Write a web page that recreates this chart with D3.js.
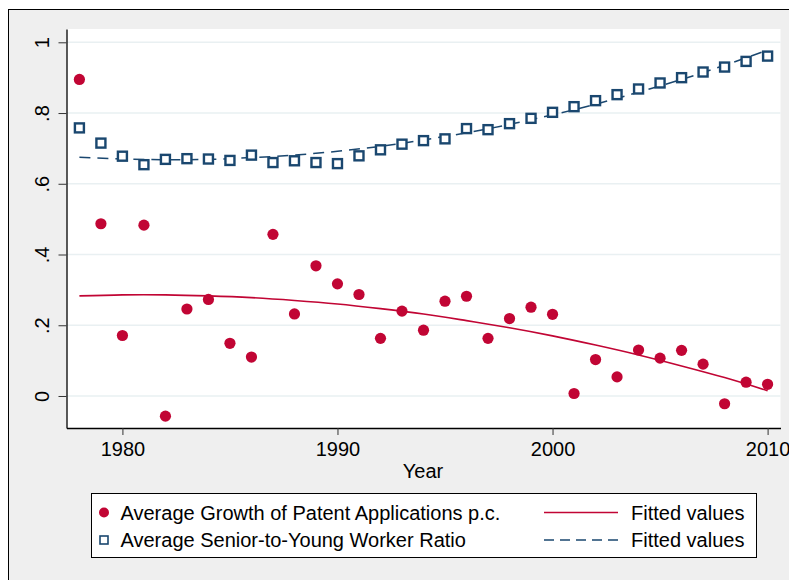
<!DOCTYPE html>
<head>
<meta charset="utf-8">
<style>
    body { margin: 0; background: #fff; }
    text { font-family: "Liberation Sans", Arial, sans-serif; fill: #000; }
</style>
<script src="https://d3js.org/d3.v7.min.js"></script>
</head>
<body>
<script>
// values
var years = d3.range(1978, 2011);
var patentGrowth = [0.895, 0.487, 0.171, 0.483, -0.057, 0.246, 0.273, 0.149, 0.110, 0.457,
    0.232, 0.368, 0.317, 0.287, 0.163, 0.240, 0.186, 0.268, 0.282, 0.163,
    0.219, 0.251, 0.231, 0.007, 0.103, 0.054, 0.130, 0.107, 0.129, 0.090,
    -0.022, 0.039, 0.033];
var seniorRatio = [0.758, 0.715, 0.678, 0.654, 0.669, 0.671, 0.670, 0.666, 0.681, 0.660,
    0.665, 0.660, 0.657, 0.679, 0.696, 0.712, 0.722, 0.727, 0.756, 0.753,
    0.770, 0.785, 0.802, 0.818, 0.835, 0.852, 0.868, 0.885, 0.900, 0.916,
    0.930, 0.946, 0.961];
var fitYears = [1978, 1980, 1982, 1984, 1986, 1988, 1990, 1992, 1994, 1996, 1998, 2000, 2002, 2004, 2006, 2008, 2010];
var patentFit = [0.283, 0.286, 0.286, 0.283, 0.278, 0.270, 0.260, 0.247, 0.232, 0.213, 0.193, 0.170, 0.144, 0.116, 0.085, 0.052, 0.015];
var ratioFit = [0.675, 0.670, 0.668, 0.669, 0.674, 0.681, 0.692, 0.706, 0.724, 0.744, 0.768, 0.795, 0.825, 0.859, 0.895, 0.935, 0.978];
var xTicks = [1980, 1990, 2000, 2010];
var yTicks = [0, 0.2, 0.4, 0.6, 0.8, 1];
var yTickLabels = ["0", ".2", ".4", ".6", ".8", "1"];
var legendLabels = ["Average Growth of Patent Applications p.c.", "Average Senior-to-Young Worker Ratio"];

var red = "#c10534", navy = "#1a476f";

var svg = d3.select("body").append("svg")
    .attr("width", 789)
    .attr("height", 580);

// graph region
svg.append("rect")
    .attr("x", 8.5).attr("y", 9.5)
    .attr("width", 800).attr("height", 600)
    .attr("fill", "#efefef")
    .attr("stroke", "#000");

var plot = {left: 66.5, right: 780.5, top: 29, bottom: 428};

svg.append("rect")
    .attr("x", plot.left).attr("y", plot.top)
    .attr("width", plot.right - plot.left).attr("height", plot.bottom - plot.top)
    .attr("fill", "#fff");

var x = d3.scaleLinear().domain([1977.4, 2010.6]).range([plot.left, plot.right]);
var y = d3.scaleLinear().domain([-0.0905, 1.0376]).range([plot.bottom, plot.top]);

// grid
svg.append("g").selectAll("line")
    .data(yTicks)
    .enter().append("line")
    .attr("x1", plot.left).attr("x2", plot.right)
    .attr("y1", function(d) { return y(d); })
    .attr("y2", function(d) { return y(d); })
    .attr("stroke", "#e9f0f2")
    .attr("stroke-width", 1.5);

// axes
var xAxis = svg.append("g")
    .attr("transform", "translate(0," + plot.bottom + ")")
    .call(d3.axisBottom(x).tickValues(xTicks).tickSize(7).tickSizeOuter(0).tickFormat(d3.format("d")));
xAxis.selectAll("text").style("font-size", "20px").attr("dy", "0").attr("y", 28);

var yAxis = svg.append("g")
    .attr("transform", "translate(" + plot.left + ",0)")
    .call(d3.axisLeft(y).tickValues(yTicks).tickSize(8).tickSizeOuter(0)
        .tickFormat(function(d, i) { return yTickLabels[i]; }));
yAxis.selectAll("text")
    .style("font-size", "20px")
    .attr("text-anchor", "middle")
    .attr("dy", "0")
    .attr("x", 0).attr("y", 0)
    .attr("transform", "translate(-18,0) rotate(-90)");
svg.selectAll(".domain").attr("stroke", "#000").attr("stroke-width", 1.3);
svg.selectAll(".tick line").attr("stroke", "#333");

svg.append("text")
    .attr("x", 423).attr("y", 478)
    .attr("text-anchor", "middle")
    .style("font-size", "20px")
    .text("Year");

// fitted lines
var line = d3.line()
    .x(function(d) { return x(d[0]); })
    .y(function(d) { return y(d[1]); })
    .curve(d3.curveNatural);

svg.append("path")
    .datum(d3.zip(fitYears, patentFit))
    .attr("fill", "none")
    .attr("stroke", red)
    .attr("stroke-width", 1.6)
    .attr("d", line);

svg.append("path")
    .datum(d3.zip(fitYears, ratioFit))
    .attr("fill", "none")
    .attr("stroke", navy)
    .attr("stroke-width", 1.5)
    .attr("stroke-dasharray", "11,7")
    .attr("d", line);

// markers
svg.append("g").selectAll("circle")
    .data(d3.zip(years, patentGrowth))
    .enter().append("circle")
    .attr("cx", function(d) { return x(d[0]); })
    .attr("cy", function(d) { return y(d[1]); })
    .attr("r", 5.6)
    .attr("fill", red);

svg.append("g").selectAll("rect")
    .data(d3.zip(years, seniorRatio))
    .enter().append("rect")
    .attr("x", function(d) { return x(d[0]) - 4.5; })
    .attr("y", function(d) { return y(d[1]) - 4.5; })
    .attr("width", 9).attr("height", 9)
    .attr("fill", "#fff")
    .attr("stroke", navy)
    .attr("stroke-width", 2.4);

// legend
var lg = svg.append("g");
lg.append("rect")
    .attr("x", 91.5).attr("y", 493.5)
    .attr("width", 665).attr("height", 64)
    .attr("fill", "#fff")
    .attr("stroke", "#000");

var rows = [512.5, 540];
lg.append("circle").attr("cx", 104).attr("cy", rows[0]).attr("r", 5).attr("fill", red);
lg.append("rect").attr("x", 100).attr("y", rows[1] - 4).attr("width", 8).attr("height", 8)
    .attr("fill", "#fff").attr("stroke", navy).attr("stroke-width", 1.6);

lg.selectAll("text.lab")
    .data(legendLabels)
    .enter().append("text")
    .attr("class", "lab")
    .attr("x", 120.5)
    .attr("y", function(d, i) { return rows[i] + 7; })
    .style("font-size", "20px")
    .text(function(d) { return d; });

lg.append("line").attr("x1", 544).attr("x2", 618).attr("y1", rows[0]).attr("y2", rows[0])
    .attr("stroke", red).attr("stroke-width", 1.6);
lg.append("line").attr("x1", 544).attr("x2", 618).attr("y1", rows[1]).attr("y2", rows[1])
    .attr("stroke", navy).attr("stroke-width", 1.5).attr("stroke-dasharray", "10,6");

lg.selectAll("text.fit")
    .data(rows)
    .enter().append("text")
    .attr("class", "fit")
    .attr("x", 631)
    .attr("y", function(d) { return d + 7; })
    .style("font-size", "20px")
    .text("Fitted values");
</script>
</body>
